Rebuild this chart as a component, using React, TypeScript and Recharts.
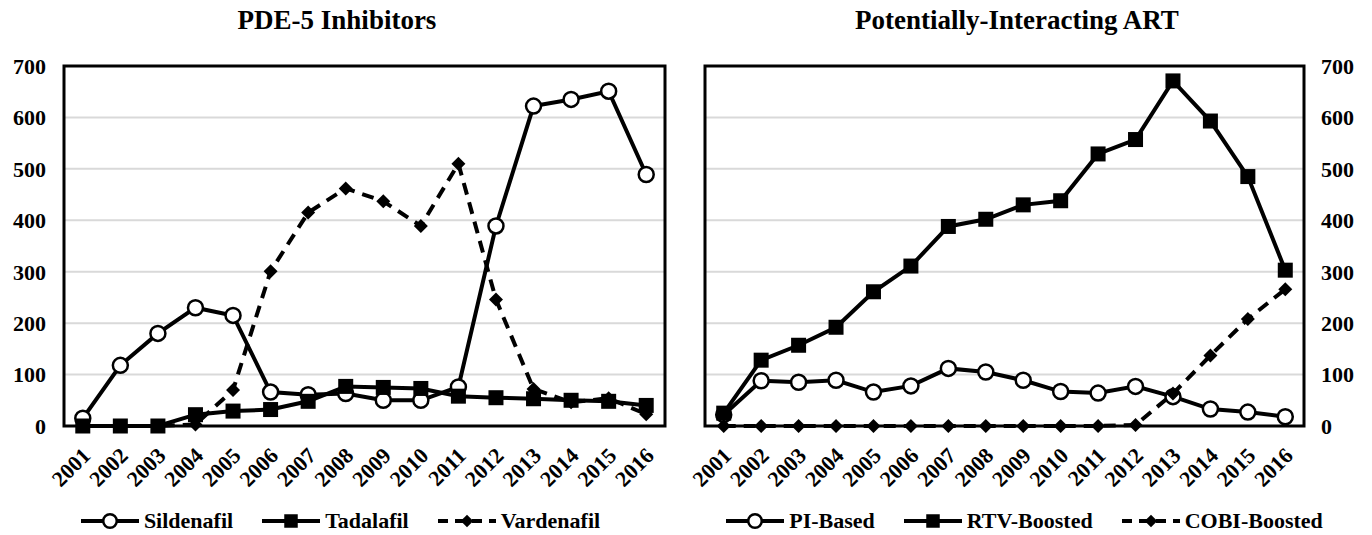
import React from "react";
import {
  LineChart,
  Line,
  XAxis,
  YAxis,
  CartesianGrid,
  ReferenceArea,
} from "recharts";

const YEARS = [
  "2001", "2002", "2003", "2004", "2005", "2006", "2007", "2008",
  "2009", "2010", "2011", "2012", "2013", "2014", "2015", "2016",
];
const Y_TICKS = [0, 100, 200, 300, 400, 500, 600, 700];

// PDE-5 inhibitors
const SILDENAFIL = [15, 118, 180, 230, 215, 66, 61, 63, 50, 50, 76, 389, 622, 635, 651, 489];
const TADALAFIL = [0, 0, 0, 22, 29, 32, 48, 77, 75, 73, 58, 55, 53, 50, 48, 40];
const VARDENAFIL = [0, 0, 0, 3, 70, 301, 415, 462, 437, 389, 510, 246, 72, 46, 54, 23];

// potentially-interacting ART
const PI_BASED = [22, 88, 85, 89, 66, 78, 112, 105, 89, 67, 64, 77, 57, 33, 27, 18];
const RTV_BOOSTED = [25, 128, 157, 192, 261, 311, 388, 402, 430, 438, 529, 557, 671, 593, 485, 303];
const COBI_BOOSTED = [0, 0, 0, 0, 0, 0, 0, 0, 0, 0, 0, 2, 63, 137, 208, 266];

const FONT = '"Liberation Serif", "Times New Roman", serif';

type Marker = "circle" | "square" | "diamond";

interface Series {
  key: string;
  name: string;
  values: number[];
  marker: Marker;
  dashed?: boolean;
}

const LEFT_SERIES: Series[] = [
  { key: "sildenafil", name: "Sildenafil", values: SILDENAFIL, marker: "circle" },
  { key: "tadalafil", name: "Tadalafil", values: TADALAFIL, marker: "square" },
  { key: "vardenafil", name: "Vardenafil", values: VARDENAFIL, marker: "diamond", dashed: true },
];

const RIGHT_SERIES: Series[] = [
  { key: "pi", name: "PI-Based", values: PI_BASED, marker: "circle" },
  { key: "rtv", name: "RTV-Boosted", values: RTV_BOOSTED, marker: "square" },
  { key: "cobi", name: "COBI-Boosted", values: COBI_BOOSTED, marker: "diamond", dashed: true },
];

function markerShape(marker: Marker, cx: number, cy: number, size = 1, key?: React.Key) {
  if (marker === "circle")
    return <circle key={key} cx={cx} cy={cy} r={7.5 * size} fill="#fff" stroke="#000" strokeWidth={2.5} />;
  if (marker === "square") {
    const h = 7.5 * size;
    return <rect key={key} x={cx - h} y={cy - h} width={h * 2} height={h * 2} fill="#000" />;
  }
  const d = 7 * size;
  return (
    <polygon
      key={key}
      points={`${cx},${cy - d} ${cx + d},${cy} ${cx},${cy + d} ${cx - d},${cy}`}
      fill="#000"
    />
  );
}

const makeDot = (marker: Marker) => (props: any) => {
  const { cx, cy, index } = props;
  if (cx == null || cy == null) return <g key={index} />;
  return markerShape(marker, cx, cy, 1, index);
};

const YearTick = (props: any) => {
  const { x, y, payload } = props;
  return (
    <g transform={`translate(${x + 9},${y + 29})`}>
      <text
        x={0}
        y={0}
        textAnchor="end"
        transform="rotate(-45)"
        fontFamily={FONT}
        fontWeight="bold"
        fontSize={22}
        fill="#000"
      >
        {payload.value}
      </text>
    </g>
  );
};

function LegendRow({ series }: { series: Series[] }) {
  return (
    <div
      style={{
        display: "flex",
        justifyContent: "center",
        alignItems: "center",
        gap: 28,
        fontFamily: FONT,
        fontWeight: "bold",
        fontSize: 22,
        color: "#000",
      }}
    >
      {series.map((s) => (
        <div key={s.key} style={{ display: "flex", alignItems: "center", gap: 4 }}>
          <svg width={60} height={20}>
            <line
              x1={1}
              y1={10}
              x2={59}
              y2={10}
              stroke="#000"
              strokeWidth={4}
              strokeDasharray={s.dashed ? "10 7" : undefined}
            />
            {markerShape(s.marker, 30, 10, 0.9)}
          </svg>
          <span>{s.name}</span>
        </div>
      ))}
    </div>
  );
}

function Panel({
  title,
  series,
  side,
}: {
  title: string;
  series: Series[];
  side: "left" | "right";
}) {
  const data = YEARS.map((year, i) => {
    const row: Record<string, string | number> = { year };
    series.forEach((s) => {
      row[s.key] = s.values[i];
    });
    return row;
  });

  const margin =
    side === "left"
      ? { top: 66, right: 21, bottom: 49, left: 0 }
      : { top: 66, right: 0, bottom: 49, left: 19 };

  return (
    <div style={{ position: "relative", width: 686, height: 535 }}>
      <div
        style={{
          position: "absolute",
          top: 7,
          left: side === "left" ? -6 : -12,
          width: 686,
          textAlign: "center",
          fontFamily: FONT,
          fontWeight: "bold",
          fontSize: 27,
          lineHeight: "27px",
        }}
      >
        {title}
      </div>
      <LineChart width={686} height={535} data={data} margin={margin}>
        <CartesianGrid vertical={false} stroke="#d9d9d9" strokeWidth={2} />
        <XAxis
          dataKey="year"
          scale="band"
          height={60}
          interval={0}
          tickLine={false}
          tickSize={0}
          axisLine={false}
          tick={<YearTick />}
        />
        <YAxis
          orientation={side}
          width={side === "left" ? 64 : 68}
          domain={[0, 700]}
          ticks={Y_TICKS}
          interval={0}
          tickLine={false}
          tickSize={0}
          tickMargin={side === "left" ? 18 : 17}
          axisLine={false}
          tick={{ fontFamily: FONT, fontWeight: "bold", fontSize: 22, fill: "#000" }}
        />
        <ReferenceArea
          x1="2001"
          x2="2016"
          y1={0}
          y2={700}
          fill="none"
          fillOpacity={0}
          stroke="#000"
          strokeWidth={3}
          ifOverflow="visible"
        />
        {series.map((s) => (
          <Line
            key={s.key}
            dataKey={s.key}
            name={s.name}
            stroke="#000"
            strokeWidth={4}
            strokeDasharray={s.dashed ? "12 8" : undefined}
            dot={makeDot(s.marker)}
            activeDot={false}
            isAnimationActive={false}
          />
        ))}
      </LineChart>
      <div style={{ position: "absolute", top: 508, left: side === "left" ? -3 : -5, width: 686 }}>
        <LegendRow series={series} />
      </div>
    </div>
  );
}

export default function App() {
  return (
    <div
      style={{
        position: "absolute",
        top: 0,
        left: 0,
        width: 1372,
        height: 535,
        background: "#fff",
        display: "flex",
      }}
    >
      <Panel title="PDE-5 Inhibitors" series={LEFT_SERIES} side="left" />
      <Panel title="Potentially-Interacting ART" series={RIGHT_SERIES} side="right" />
    </div>
  );
}
